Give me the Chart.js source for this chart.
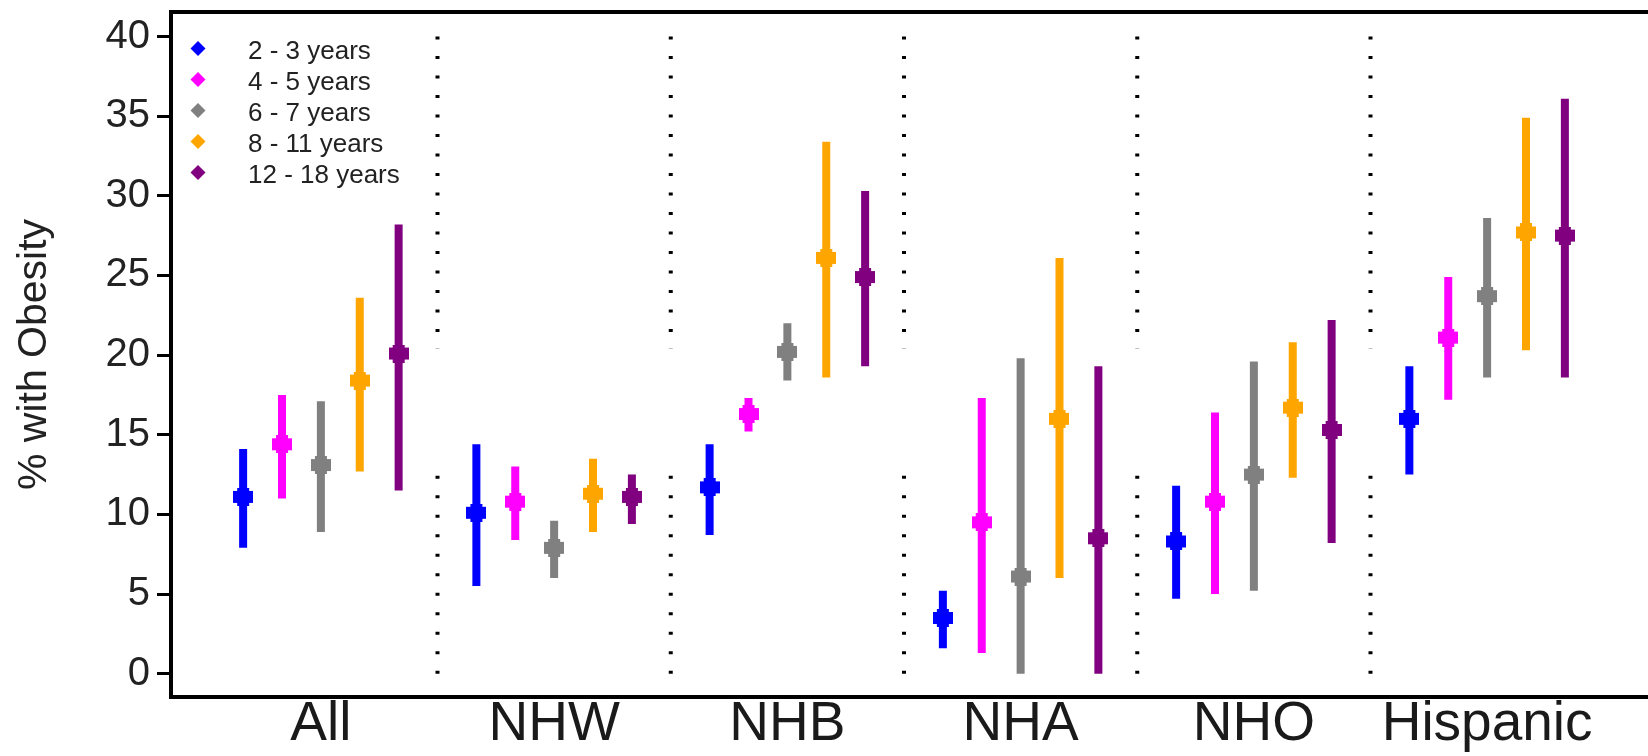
<!DOCTYPE html>
<html>
<head>
<meta charset="utf-8">
<script src="https://cdn.jsdelivr.net/npm/chart.js@4.4.1/dist/chart.umd.min.js"></script>
<style>
  html, body { margin: 0; padding: 0; background: #fff; overflow: hidden; }
  #wrap { width: 1648px; height: 756px; position: relative; }
</style>
</head>
<body>
<div id="wrap"><canvas id="c" width="1648" height="756"></canvas></div>
<script>
// ---------- data ----------
const categories = ['All', 'NHW', 'NHB', 'NHA', 'NHO', 'Hispanic'];
const ageGroups = ['2 - 3 years', '4 - 5 years', '6 - 7 years', '8 - 11 years', '12 - 18 years'];
const ageColors = ['#0000FF', '#FF00FF', '#808080', '#FFA500', '#800080'];

const est_2_3   = [11.1, 10.1, 11.7, 3.5, 8.3, 16.0];
const low_2_3   = [7.9, 5.5, 8.7, 1.6, 4.7, 12.5];
const high_2_3  = [14.1, 14.4, 14.4, 5.2, 11.8, 19.3];

const est_4_5   = [14.4, 10.8, 16.3, 9.5, 10.8, 21.1];
const low_4_5   = [11.0, 8.4, 15.2, 1.3, 5.0, 17.2];
const high_4_5  = [17.5, 13.0, 17.3, 17.3, 16.4, 24.9];

const est_6_7   = [13.1, 7.9, 20.2, 6.1, 12.5, 23.7];
const low_6_7   = [8.9, 6.0, 18.4, 0.0, 5.2, 18.6];
const high_6_7  = [17.1, 9.6, 22.0, 19.8, 19.6, 28.6];

const est_8_11  = [18.4, 11.3, 26.1, 16.0, 16.7, 27.7];
const low_8_11  = [12.7, 8.9, 18.6, 6.0, 12.3, 20.3];
const high_8_11 = [23.6, 13.5, 33.4, 26.1, 20.8, 34.9];

const est_12_18  = [20.1, 11.1, 24.9, 8.5, 15.3, 27.5];
const low_12_18  = [11.5, 9.4, 19.3, 0.0, 8.2, 18.6];
const high_12_18 = [28.2, 12.5, 30.3, 19.3, 22.2, 36.1];

const yTickValues = [0, 5, 10, 15, 20, 25, 30, 35, 40];
const separatorX = [1.5, 2.5, 3.5, 4.5, 5.5];
const separatorSegments = [[40, 20.4], [0, 13.4]];

const estimates = [est_2_3, est_4_5, est_6_7, est_8_11, est_12_18];
const lows = [low_2_3, low_4_5, low_6_7, low_8_11, low_12_18];
const highs = [high_2_3, high_4_5, high_6_7, high_8_11, high_12_18];

// ---------- layout constants ----------
const W = 1648, H = 756;
const AREA_LEFT = 171, AREA_TOP = 12, AREA_BOTTOM = 697;
const PX_PER_CAT = 235;
const FIRST_CENTER = 322;
const xMin = 1 - (FIRST_CENTER - AREA_LEFT) / PX_PER_CAT;
const xMax = 1 + (W - FIRST_CENTER) / PX_PER_CAT;
const PX_PER_UNIT = 15.93;
const ZERO_PIX = 673.7;
const yMax = (ZERO_PIX - AREA_TOP) / PX_PER_UNIT;
const yMin = -(AREA_BOTTOM - ZERO_PIX) / PX_PER_UNIT;
const dodge = [-2, -1, 0, 1, 2].map(k => k / 6);
const FONT = "'Liberation Sans', Arial, Helvetica, sans-serif";

function markerCanvas(color) {
  const c = document.createElement('canvas');
  c.width = 20; c.height = 18;
  const g = c.getContext('2d');
  g.fillStyle = color;
  g.fillRect(0, 3, 20, 12);
  g.fillRect(4, 0, 12, 18);
  return c;
}

// ---------- datasets ----------
const datasets = [];
ageGroups.forEach((name, k) => {
  const pts = categories.map((_, i) => ({ x: i + 1 + dodge[k], y: estimates[k][i] }));
  datasets.push({
    type: 'scatter', label: name, data: pts, order: 0,
    pointStyle: markerCanvas(ageColors[k]), pointRadius: 10,
    backgroundColor: ageColors[k], borderColor: ageColors[k]
  });
});
ageGroups.forEach((name, k) => {
  const seg = [];
  categories.forEach((_, i) => {
    const x = i + 1 + dodge[k];
    seg.push({ x, y: lows[k][i] }, { x, y: highs[k][i] }, { x, y: null });
  });
  datasets.push({
    type: 'line', label: name + ' CI', data: seg, order: 1,
    borderColor: ageColors[k], borderWidth: 8, borderCapStyle: 'butt',
    pointRadius: 0, spanGaps: false, fill: false, tension: 0
  });
});
{
  const seg = [];
  separatorX.forEach(x => {
    separatorSegments.forEach(([a, b]) => {
      seg.push({ x, y: a }, { x, y: b }, { x, y: null });
    });
  });
  datasets.push({
    type: 'line', label: 'sep', data: seg, order: 2,
    borderColor: '#000', borderWidth: 4, borderDash: [3, 16.5], borderCapStyle: 'butt',
    pointRadius: 0, spanGaps: false, fill: false, tension: 0
  });
}

// ---------- plugins ----------
const framePlugin = {
  id: 'frame',
  afterDatasetsDraw(chart) {
    const { ctx, chartArea: a } = chart;
    ctx.save();
    ctx.strokeStyle = '#000';
    ctx.lineWidth = 4;
    ctx.lineJoin = 'miter';
    ctx.beginPath();
    ctx.moveTo(W + 4, a.top);
    ctx.lineTo(a.left, a.top);
    ctx.lineTo(a.left, a.bottom);
    ctx.lineTo(W + 4, a.bottom);
    ctx.stroke();
    ctx.restore();
  }
};

const legendPlugin = {
  id: 'customLegend',
  afterDraw(chart) {
    const ctx = chart.ctx;
    ctx.save();
    const x0 = 198, y0 = 48.5, step = 31, r = 7.5;
    ageGroups.forEach((name, k) => {
      const y = y0 + k * step;
      ctx.fillStyle = ageColors[k];
      ctx.beginPath();
      ctx.moveTo(x0, y - r);
      ctx.lineTo(x0 + r, y);
      ctx.lineTo(x0, y + r);
      ctx.lineTo(x0 - r, y);
      ctx.closePath();
      ctx.fill();
      ctx.fillStyle = '#222';
      ctx.font = '26px ' + FONT;
      ctx.textBaseline = 'middle';
      ctx.textAlign = 'left';
      ctx.fillText(name, 248, y + 3);
    });
    ctx.restore();
  }
};

// ---------- chart ----------
new Chart(document.getElementById('c'), {
  data: { datasets },
  options: {
    responsive: false,
    devicePixelRatio: 1,
    animation: false,
    events: [],
    layout: { padding: { top: AREA_TOP, left: 0, right: 0, bottom: 0 } },
    plugins: { legend: { display: false }, tooltip: { enabled: false } },
    scales: {
      x: {
        type: 'linear', position: 'bottom', min: xMin, max: xMax,
        grid: { display: false, drawTicks: false },
        border: { display: false },
        afterBuildTicks(scale) { scale.ticks = categories.map((_, i) => ({ value: i + 1 })); },
        afterFit(scale) {
          scale.height = H - AREA_BOTTOM;
          scale.paddingLeft = 0; scale.paddingRight = 0;
        },
        ticks: {
          autoSkip: false, maxRotation: 0, padding: 0,
          color: '#1a1a1a',
          font: { family: FONT, size: 55, lineHeight: 1 },
          callback: (v) => categories[Math.round(v) - 1]
        }
      },
      y: {
        type: 'linear', position: 'left', min: yMin, max: yMax,
        grid: { drawOnChartArea: false, drawTicks: true, tickLength: 14, tickWidth: 3, tickColor: '#000' },
        border: { display: false },
        afterBuildTicks(scale) { scale.ticks = yTickValues.map(v => ({ value: v })); },
        afterFit(scale) {
          scale.width = AREA_LEFT;
          scale.paddingTop = 0; scale.paddingBottom = 0;
        },
        ticks: {
          padding: 7, color: '#222',
          font: { family: FONT, size: 40, lineHeight: 1 },
          callback: (v) => String(v)
        },
        title: {
          display: true, text: '% with Obesity', color: '#222',
          font: { family: FONT, size: 41, lineHeight: 1.2 },
          padding: { top: 10, bottom: 0 }
        }
      }
    }
  },
  plugins: [framePlugin, legendPlugin]
});
</script>
</body>
</html>
